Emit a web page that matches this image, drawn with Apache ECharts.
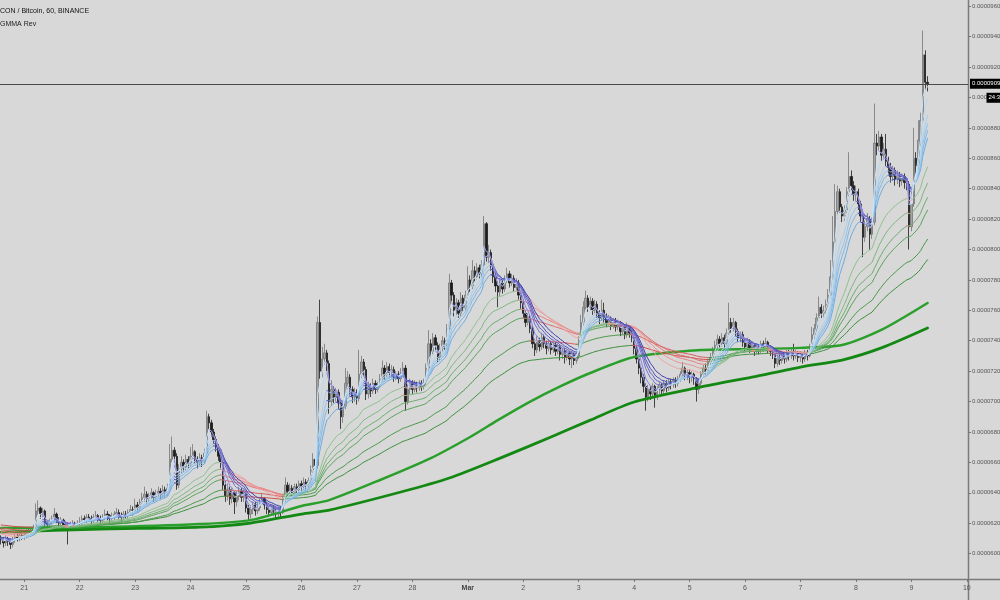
<!DOCTYPE html>
<html><head><meta charset="utf-8">
<script src="https://cdn.jsdelivr.net/npm/echarts@6/dist/echarts.min.js"></script>
<style>html,body{margin:0;padding:0;background:#d8d8d8}#c{width:1000px;height:600px}</style>
</head><body><div id="c"></div>
<script>
// Prices are in units of 1e-7 BTC (e.g. 600 = 0.0000600)
const PRICE_UNIT = 1e-7;
const TITLE = 'CON / Bitcoin, 60, BINANCE';
const SUBTITLE = 'GMMA Rev';
const FIRST_HOUR = 14;            // first candle: Feb 20, 14:00
const FIRST_OPEN = 610;
const dayLabels = ['21','22','23','24','25','26','27','28','Mar','2','3','4','5','6','7','8','9','10'];
const yTicks = { min: 580, interval: 20 };
const countdown = '24:37';

// hourly candles per day: [close, high, low]; open = previous close
const feb20 = [[609,612,606],[607,611,604],[610,612,605],[608,611,605],[606,610,603],[609,611,604],[611,613,607],[610,613,608],[612,614,608],[611,614,609]];
const feb21 = [[612,615,609],[614,616,610],[613,616,611],[615,617,611],[616,619,613],[628,633,615],[630,635,625],[626,631,623],[628,630,624],[620,629,618],[619,622,616],[621,623,617],[623,625,619],[626,630,621],[622,627,620],[620,624,617],[622,624,618],[619,623,616],[618,621,615],[617,620,606],[619,621,615],[620,622,617],[618,621,615],[620,622,616]];
const feb22 = [[621,624,618],[623,625,619],[622,625,620],[624,626,620],[623,626,621],[622,625,619],[624,626,620],[625,628,622],[623,626,621],[622,625,619],[624,626,620],[626,629,622],[625,628,622],[623,626,620],[624,627,621],[626,628,622],[627,630,624],[625,629,623],[624,627,621],[626,628,622],[625,628,623],[627,629,623],[629,632,625],[628,631,625]];
const feb23 = [[632,636,626],[630,634,627],[634,636,628],[637,640,632],[639,644,634],[636,641,633],[638,640,634],[640,643,636],[637,641,634],[639,642,635],[641,644,637],[639,643,636],[642,645,637],[640,644,637],[643,646,638],[662,672,641],[668,677,660],[664,670,660],[645,666,642],[656,659,643],[660,664,653],[657,662,654],[662,665,655],[659,664,656]];
const feb24 = [[664,670,657],[667,672,662],[662,668,659],[660,664,656],[663,666,658],[661,665,657],[666,669,659],[690,694,664],[686,692,682],[680,688,677],[675,682,672],[670,677,667],[664,672,661],[660,667,656],[645,661,642],[638,648,634],[642,646,635],[636,644,632],[640,643,633],[634,641,626],[638,641,631],[641,644,635],[637,643,634],[639,642,634]];
const feb25 = [[630,640,627],[626,632,622],[629,631,623],[632,634,626],[628,634,625],[630,633,626],[634,636,628],[636,640,632],[632,637,629],[629,634,626],[627,631,624],[630,632,625],[628,632,625],[626,630,623],[629,631,624],[627,631,624],[636,638,626],[645,650,634],[641,647,638],[643,646,638],[640,645,637],[644,646,638],[642,646,639],[646,648,640]];
const feb26 = [[644,648,641],[647,650,642],[645,649,642],[648,650,643],[655,658,646],[662,666,653],[658,664,655],[752,756,656],[720,767,715],[728,736,716],[732,738,724],[725,734,720],[700,727,692],[708,714,697],[703,710,699],[706,709,700],[699,708,695],[690,701,682],[697,700,686],[712,722,695],[716,720,708],[708,718,704],[703,710,699],[706,709,700]];
const feb27 = [[702,708,698],[718,734,700],[726,730,715],[721,728,717],[705,723,701],[710,713,702],[707,712,703],[712,715,705],[708,714,705],[711,713,706],[715,718,709],[722,727,713],[718,724,714],[723,726,716],[719,725,716],[721,724,717],[716,723,713],[718,720,714],[715,720,712],[719,722,713],[722,726,717],[700,724,694],[708,711,698],[712,715,705]];
const feb28 = [[708,714,705],[711,714,706],[709,713,706],[712,714,707],[710,714,707],[713,715,708],[722,725,711],[738,747,720],[733,741,729],[742,745,731],[737,744,734],[729,739,726],[735,738,727],[740,743,733],[737,742,734],[748,751,735],[778,784,746],[770,780,766],[760,772,756],[765,768,757],[758,767,755],[768,772,756],[762,770,759],[770,773,760]];
const mar01 = [[780,789,768],[776,783,772],[786,793,774],[782,789,779],[788,791,780],[784,790,781],[790,793,782],[817,822,788],[795,818,792],[798,803,791],[790,800,786],[782,792,778],[776,785,772],[772,779,762],[778,781,769],[774,780,771],[780,783,772],[784,788,778],[778,786,775],[781,784,776],[775,783,772],[778,781,773],[770,780,767],[765,772,761]];
const mar02 = [[758,767,755],[752,760,749],[755,758,750],[748,757,745],[738,750,735],[734,741,730],[740,743,732],[736,742,733],[742,745,734],[738,744,735],[735,740,731],[738,741,733],[734,740,731],[737,739,732],[733,739,730],[736,738,731],[731,737,727],[733,735,728],[729,735,725],[732,734,727],[728,733,724],[731,733,722],[727,732,724],[730,733,725]];
const mar03 = [[740,743,728],[752,757,738],[762,766,750],[768,773,759],[762,770,759],[766,769,760],[760,768,757],[764,767,758],[758,766,755],[755,760,751],[760,767,753],[756,765,752],[752,758,749],[755,757,750],[750,756,747],[753,755,748],[749,755,746],[752,754,747],[746,753,743],[749,751,744],[744,750,741],[748,752,742],[745,750,742],[742,747,739]];
const mar04 = [[735,743,731],[728,737,725],[722,730,718],[716,724,712],[710,718,706],[703,712,694],[708,711,700],[705,710,701],[710,712,703],[704,711,696],[708,710,701],[711,713,705],[707,712,704],[712,714,705],[709,714,706],[713,715,707],[711,715,708],[714,716,709],[712,716,709],[715,717,710],[718,720,713],[722,726,716],[717,723,714],[719,721,714]];
const mar05 = [[716,721,712],[718,720,713],[715,719,711],[708,716,700],[712,714,705],[718,720,710],[722,724,716],[720,725,717],[726,728,718],[729,732,724],[733,736,727],[737,740,731],[741,744,735],[738,743,735],[742,745,736],[738,744,735],[745,748,737],[752,765,743],[748,755,745],[752,755,746],[746,753,743],[742,748,739],[744,746,739],[739,746,736]];
const mar06 = [[736,741,733],[740,742,734],[735,741,732],[737,739,733],[733,738,730],[736,738,731],[734,737,731],[738,740,732],[736,740,733],[739,742,734],[735,740,732],[733,737,730],[731,735,728],[725,732,722],[729,731,723],[727,731,724],[730,732,725],[728,731,725],[732,734,726],[730,734,727],[733,735,728],[730,738,727],[732,734,728],[729,733,726]];
const mar07 = [[731,733,726],[728,732,725],[732,734,726],[730,734,727],[736,738,729],[744,749,734],[748,751,741],[755,758,746],[762,769,753],[758,764,755],[760,763,755],[764,767,758],[770,774,762],[782,793,768],[805,822,780],[825,843,802],[838,842,820],[828,840,824],[822,830,818],[826,829,819],[838,841,824],[848,864,835],[842,852,839],[836,845,832]];
const mar08 = [[838,842,832],[830,840,826],[822,832,818],[808,824,795],[815,819,805],[820,824,812],[810,822,800],[818,821,807],[870,896,816],[868,876,862],[874,878,865],[862,876,858],[866,870,859],[858,876,855],[854,861,850],[848,857,844],[852,855,845],[846,854,842],[849,852,843],[845,851,841],[848,850,842],[844,850,840],[843,847,839],[815,845,800]];
const mar09 = [[830,840,812],[860,880,828],[855,864,850],[872,885,852],[885,890,868],[928,944,883],[910,931,905],[909,914,904]];

// GMMA ribbons: EMA periods and their starting values (read at left edge)
const shortPeriods = [3, 5, 8, 10, 12, 15];
const shortSeeds   = [610, 610, 610, 611, 611, 611];
const longPeriods  = [30, 40, 50, 60, 90, 120];
const longSeeds    = [613, 614, 615, 616, 617, 619];

// the two thick long-term averages (hour index since first candle -> price)
const upperThickHours  = [0, 43, 86, 108, 130, 142, 164, 186, 203, 215, 229, 242, 255, 274, 303, 325, 346, 364, 381, 401];
const upperThickValues = [616.8, 617.4, 619.4, 622.0, 631.3, 635.2, 648.4, 662.8, 676.7, 687.8, 700.0, 710.0, 718.8, 729.3, 733.9, 734.6, 735.3, 737.2, 747.1, 764.8];
const lowerThickHours  = [0, 43, 86, 108, 130, 142, 173, 194, 216, 238, 255, 274, 303, 325, 346, 364, 381, 401];
const lowerThickValues = [614.1, 616.1, 617.4, 620.1, 626.0, 628.6, 640.5, 649.7, 662.8, 676.7, 687.8, 699.7, 709.6, 716.1, 722.7, 727.3, 735.3, 748.4];

const shortUpColors = ['#cfe5f6','#bbdaf3','#a6cff0','#92c4ec','#7fb8e8','#6cace4'];
const shortDnColors = ['#9d9be4','#8886da','#7472d0','#615fc6','#504ebc','#4240b0'];
const longUpColors  = ['#8fc18f','#7db77d','#6bad6b','#59a359','#489948','#3a8f3a'];
const longDnColors  = ['#f2a3a3','#ec9191','#e67f7f','#e06d6d','#da5b5b','#d44a4a'];
const thickColors   = ['#2b9f2b','#138813'];

// ---------- build ----------
const candles = [].concat(feb20,feb21,feb22,feb23,feb24,feb25,feb26,feb27,feb28,mar01,mar02,mar03,mar04,mar05,mar06,mar07,mar08,mar09);
const closes = candles.map(d => d[0]);
const ohlc = candles.map((d,i) => [i ? candles[i-1][0] : FIRST_OPEN, d[0], d[2], d[1]]);

const cats = []; const labelAt = {};
for (let h = FIRST_HOUR; h < 24; h++) cats.push('20 ' + h);
dayLabels.forEach((d,k) => {
  const hours = k === dayLabels.length - 1 ? 1 : 24;
  for (let h = 0; h < hours; h++) { if (h === 0) labelAt[cats.length] = d; cats.push(d + ' ' + h); }
});

function ema(vals, period, seed){ const k = 2/(period+1); let e = seed; return vals.map(v => (e = e + k*(v-e))); }
function splitRuns(vals){
  const n = vals.length; const out = [0,1,2,3].map(() => new Array(n).fill(null));
  let run = -1, prev = null;
  for (let i = 0; i < n-1; i++){
    const dir = vals[i+1] >= vals[i] ? 0 : 1;
    if (dir !== prev){ run++; prev = dir; }
    const s = dir*2 + (Math.floor(run/2) % 2);
    out[s][i] = vals[i]; out[s][i+1] = vals[i+1];
  }
  return out; // [upA, upB, dnA, dnB]
}
function lineSeries(data, color, width, z, smooth){
  return { type:'line', data, showSymbol:false, symbol:'none', silent:true, connectNulls:false, smooth: smooth || false,
    lineStyle:{ color, width, join:'round', cap:'round' }, itemStyle:{color}, z, animation:false };
}
const series = [];
series.push({
  type:'candlestick', data: ohlc, barWidth: 1.9, z: 2,
  itemStyle:{ color:'#a3a3a3', borderColor:'#767676', color0:'#1c1c1c', borderColor0:'#1c1c1c', borderWidth:0.8 },
  markLine:{ symbol:'none', silent:true, animation:false,
    lineStyle:{ color:'#4a4a4a', width:1, type:'solid' },
    label:{ position:'end', distance:2, formatter: p => (p.value*PRICE_UNIT).toFixed(7),
      backgroundColor:'#000', color:'#fff', fontSize:6, padding:[2,2], fontFamily:'Liberation Sans' },
    data:[{ yAxis: closes[closes.length-1] }] }
});
series.push(lineSeries(upperThickHours.map((h,i) => [h, upperThickValues[i]]), thickColors[0], 2.5, 3, 0.25));
series.push(lineSeries(lowerThickHours.map((h,i) => [h, lowerThickValues[i]]), thickColors[1], 2.8, 3, 0.25));
longPeriods.slice().reverse().forEach((p,jr) => {
  const j = longPeriods.length-1-jr;
  const parts = splitRuns(ema(closes, p, longSeeds[j]));
  [longUpColors[j], longUpColors[j], longDnColors[j], longDnColors[j]].forEach((c,s) => series.push(lineSeries(parts[s], c, 1, 4)));
});
shortPeriods.slice().reverse().forEach((p,jr) => {
  const j = shortPeriods.length-1-jr;
  const parts = splitRuns(ema(closes, p, shortSeeds[j]));
  [shortUpColors[j], shortUpColors[j], shortDnColors[j], shortDnColors[j]].forEach((c,s) => series.push(lineSeries(parts[s], c, 1, 5)));
});

const chart = echarts.init(document.getElementById('c'), null, {renderer:'canvas'});
const GRID = { left:0, right:32, top:0, bottom:16, containLabel:false, outerBoundsMode:'none' };
chart.setOption({
  backgroundColor:'#d8d8d8', animation:false,
  grid: GRID,
  xAxis: { type:'category', data: cats, boundaryGap:true, offset:-5,
    axisLine:{ show:false },
    axisTick:{ show:true, interval: i => labelAt[i] !== undefined, alignWithLabel:true, length:3, lineStyle:{color:'#777'} },
    axisLabel:{ interval: i => labelAt[i] !== undefined,
      formatter: (v,i) => { const t = labelAt[i] || ''; return isNaN(+t) ? '{m|' + t + '}' : t; },
      rich:{ m:{ fontWeight:'bold', fontSize:7, color:'#444', fontFamily:'Liberation Sans' } },
      fontSize:7, color:'#555', margin:6, fontFamily:'Liberation Sans' },
    splitLine:{ show:false } },
  yAxis: { type:'value', position:'right', min: yTicks.min, max: 964.1, interval: yTicks.interval, scale:true,
    axisLine:{ show:false },
    axisTick:{ show:true, length:3, lineStyle:{color:'#777'} },
    axisLabel:{ showMinLabel:false, showMaxLabel:false, margin:4, fontSize:6, color:'#555', fontFamily:'Liberation Sans',
      formatter: v => (v*PRICE_UNIT).toFixed(7) },
    splitLine:{ show:false } },
  series
});

// frame lines, title, countdown box
const W = 1000, H = 600;
const axisX = W - GRID.right + 0.5, axisY = H - GRID.bottom - 5 + 0.5;
const lastIdx = closes.length - 1;
const pY = chart.convertToPixel({yAxisIndex:0}, closes[lastIdx]);
chart.setOption({ graphic: [
  { type:'line', shape:{x1:0,y1:axisY,x2:W,y2:axisY}, style:{stroke:'#7a7a7a', lineWidth:1.5}, silent:true },
  { type:'line', shape:{x1:axisX,y1:0,x2:axisX,y2:H}, style:{stroke:'#7a7a7a', lineWidth:1.5}, silent:true },
  { type:'text', left:0, top:8, style:{ text: TITLE, fontSize:7, fill:'#111', fontFamily:'Liberation Sans' }, silent:true },
  { type:'text', left:0, top:21, style:{ text: SUBTITLE, fontSize:7, fill:'#222', fontFamily:'Liberation Sans' }, silent:true },
  { type:'text', x: axisX + 18, y: pY + 9, style:{ text: countdown, fontSize:6, fill:'#fff', backgroundColor:'#000', padding:[2,2], fontFamily:'Liberation Sans' }, silent:true, z:100 }
]});
</script></body></html>
